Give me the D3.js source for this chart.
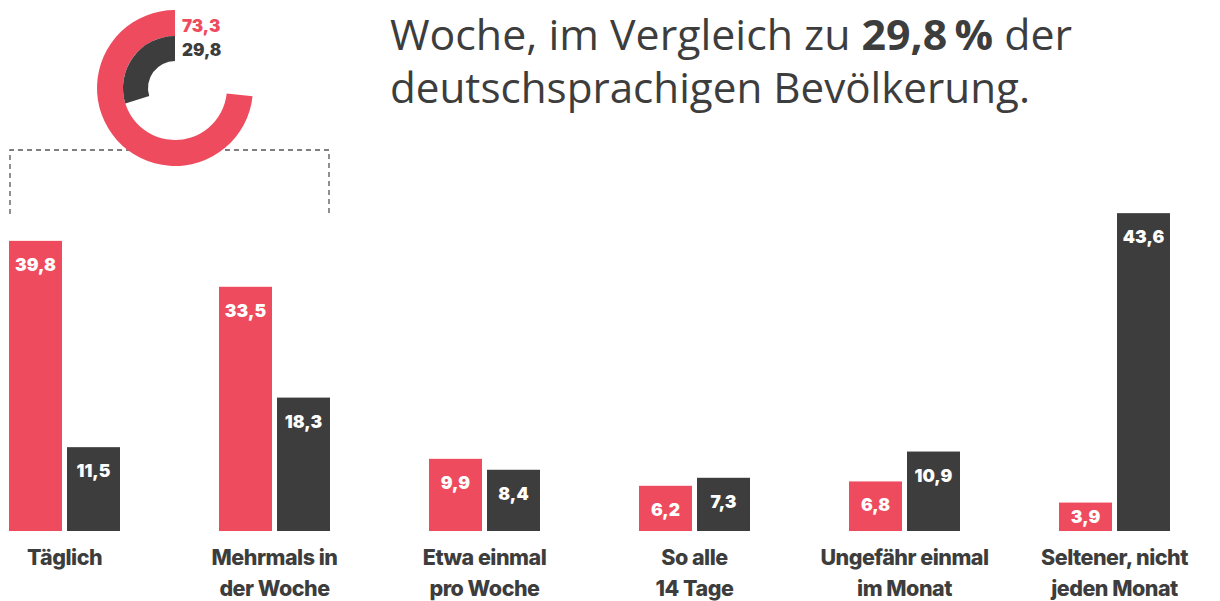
<!DOCTYPE html>
<html>
<head>
<meta charset="utf-8">
<script src="https://cdn.jsdelivr.net/npm/d3@7/dist/d3.min.js"></script>
<style>
  body { margin: 0; background: #fff; }
  svg { display: block; }
</style>
</head>
<body>
<div id="chart"></div>
<script>
const categories = [
  ["Täglich"],
  ["Mehrmals in", "der Woche"],
  ["Etwa einmal", "pro Woche"],
  ["So alle", "14 Tage"],
  ["Ungefähr einmal", "im Monat"],
  ["Seltener, nicht", "jeden Monat"],
];
const seriesRed = [39.8, 33.5, 9.9, 6.2, 6.8, 3.9];
const seriesDark = [11.5, 18.3, 8.4, 7.3, 10.9, 43.6];
const donutValues = [73.3, 29.8];

const RED = "#ef4b5e";
const DARK = "#3d3d3d";
const width = 1220, height = 601;
const baseline = 531;

const fmt = (v) => v.toFixed(1).replace(".", ",");

const svg = d3.select("#chart").append("svg")
  .attr("width", width).attr("height", height);

// headline text (top line is cut off in the original)
const line1 = svg.append("text")
  .attr("x", 390).attr("y", 50)
  .attr("font-family", "'Open Sans', sans-serif")
  .attr("font-size", 42)
  .attr("fill", DARK)
  .attr("textLength", 682)
  .attr("lengthAdjust", "spacingAndGlyphs");
line1.append("tspan").text("Woche, im Vergleich zu ");
line1.append("tspan").attr("font-weight", 700).text("29,8\u2009%");
line1.append("tspan").text(" der");

svg.append("text")
  .attr("x", 390).attr("y", 103)
  .attr("font-family", "'Open Sans', sans-serif")
  .attr("font-size", 42)
  .attr("fill", DARK)
  .attr("textLength", 640)
  .attr("lengthAdjust", "spacingAndGlyphs")
  .text("deutschsprachigen Bevölkerung.");

// dashed bracket
svg.append("path")
  .attr("d", "M10,214V150H329V214")
  .attr("fill", "none")
  .attr("stroke", "#555")
  .attr("stroke-width", 1.3)
  .attr("stroke-dasharray", "5,4");

// donut
const donut = svg.append("g").attr("transform", "translate(175,88)");
const rings = [
  { value: donutValues[0], inner: 52, outer: 78, color: RED },
  { value: donutValues[1], inner: 27, outer: 52, color: DARK },
];
donut.selectAll("path")
  .data(rings)
  .join("path")
  .attr("fill", (d) => d.color)
  .attr("d", (d) => d3.arc()
    .innerRadius(d.inner)
    .outerRadius(d.outer)
    .startAngle(0)
    .endAngle(-d.value / 100 * 2 * Math.PI)());

svg.selectAll(".donut-label")
  .data(rings)
  .join("text")
  .attr("class", "donut-label")
  .attr("x", 182)
  .attr("y", (d, i) => 32 + i * 24)
  .attr("font-family", "Inter, sans-serif")
  .attr("font-weight", 900)
  .attr("font-size", 17)
  .attr("fill", (d) => d.color)
  .text((d) => fmt(d.value));

// bars
const x0 = d3.scaleBand()
  .domain(d3.range(categories.length))
  .range([9, 1170])
  .paddingInner(99 / 210)
  .paddingOuter(0);

const x1 = d3.scaleBand()
  .domain(["red", "dark"])
  .range([0, x0.bandwidth()])
  .paddingInner(5 / 58);

const y = d3.scaleLinear().domain([0, 50]).range([baseline, baseline - 364.5]);

const rows = categories.map((c, i) => ({
  i,
  lines: c,
  bars: [
    { key: "red", value: seriesRed[i], color: RED },
    { key: "dark", value: seriesDark[i], color: DARK },
  ],
}));

const group = svg.selectAll(".group")
  .data(rows)
  .join("g")
  .attr("class", "group")
  .attr("transform", (d) => `translate(${x0(d.i)},0)`);

group.selectAll("rect")
  .data((d) => d.bars)
  .join("rect")
  .attr("x", (d) => x1(d.key))
  .attr("y", (d) => y(d.value))
  .attr("width", x1.bandwidth())
  .attr("height", (d) => baseline - y(d.value))
  .attr("fill", (d) => d.color);

group.selectAll(".val")
  .data((d) => d.bars)
  .join("text")
  .attr("class", "val")
  .attr("x", (d) => x1(d.key) + x1.bandwidth() / 2)
  .attr("y", (d) => Math.min(y(d.value) + 30, baseline - 8))
  .attr("text-anchor", "middle")
  .attr("font-family", "Inter, sans-serif")
  .attr("font-weight", 900)
  .attr("font-size", 17.5)
  .attr("fill", "#fff")
  .text((d) => fmt(d.value));

group.append("text")
  .attr("text-anchor", "middle")
  .attr("font-family", "Inter, sans-serif")
  .attr("font-weight", 800)
  .attr("font-size", 21.5)
  .attr("letter-spacing", -0.5)
  .attr("fill", DARK)
  .selectAll("tspan")
  .data((d) => d.lines)
  .join("tspan")
  .attr("x", x0.bandwidth() / 2)
  .attr("y", (d, i) => 565 + i * 31)
  .text((d) => d);
</script>
</body>
</html>
